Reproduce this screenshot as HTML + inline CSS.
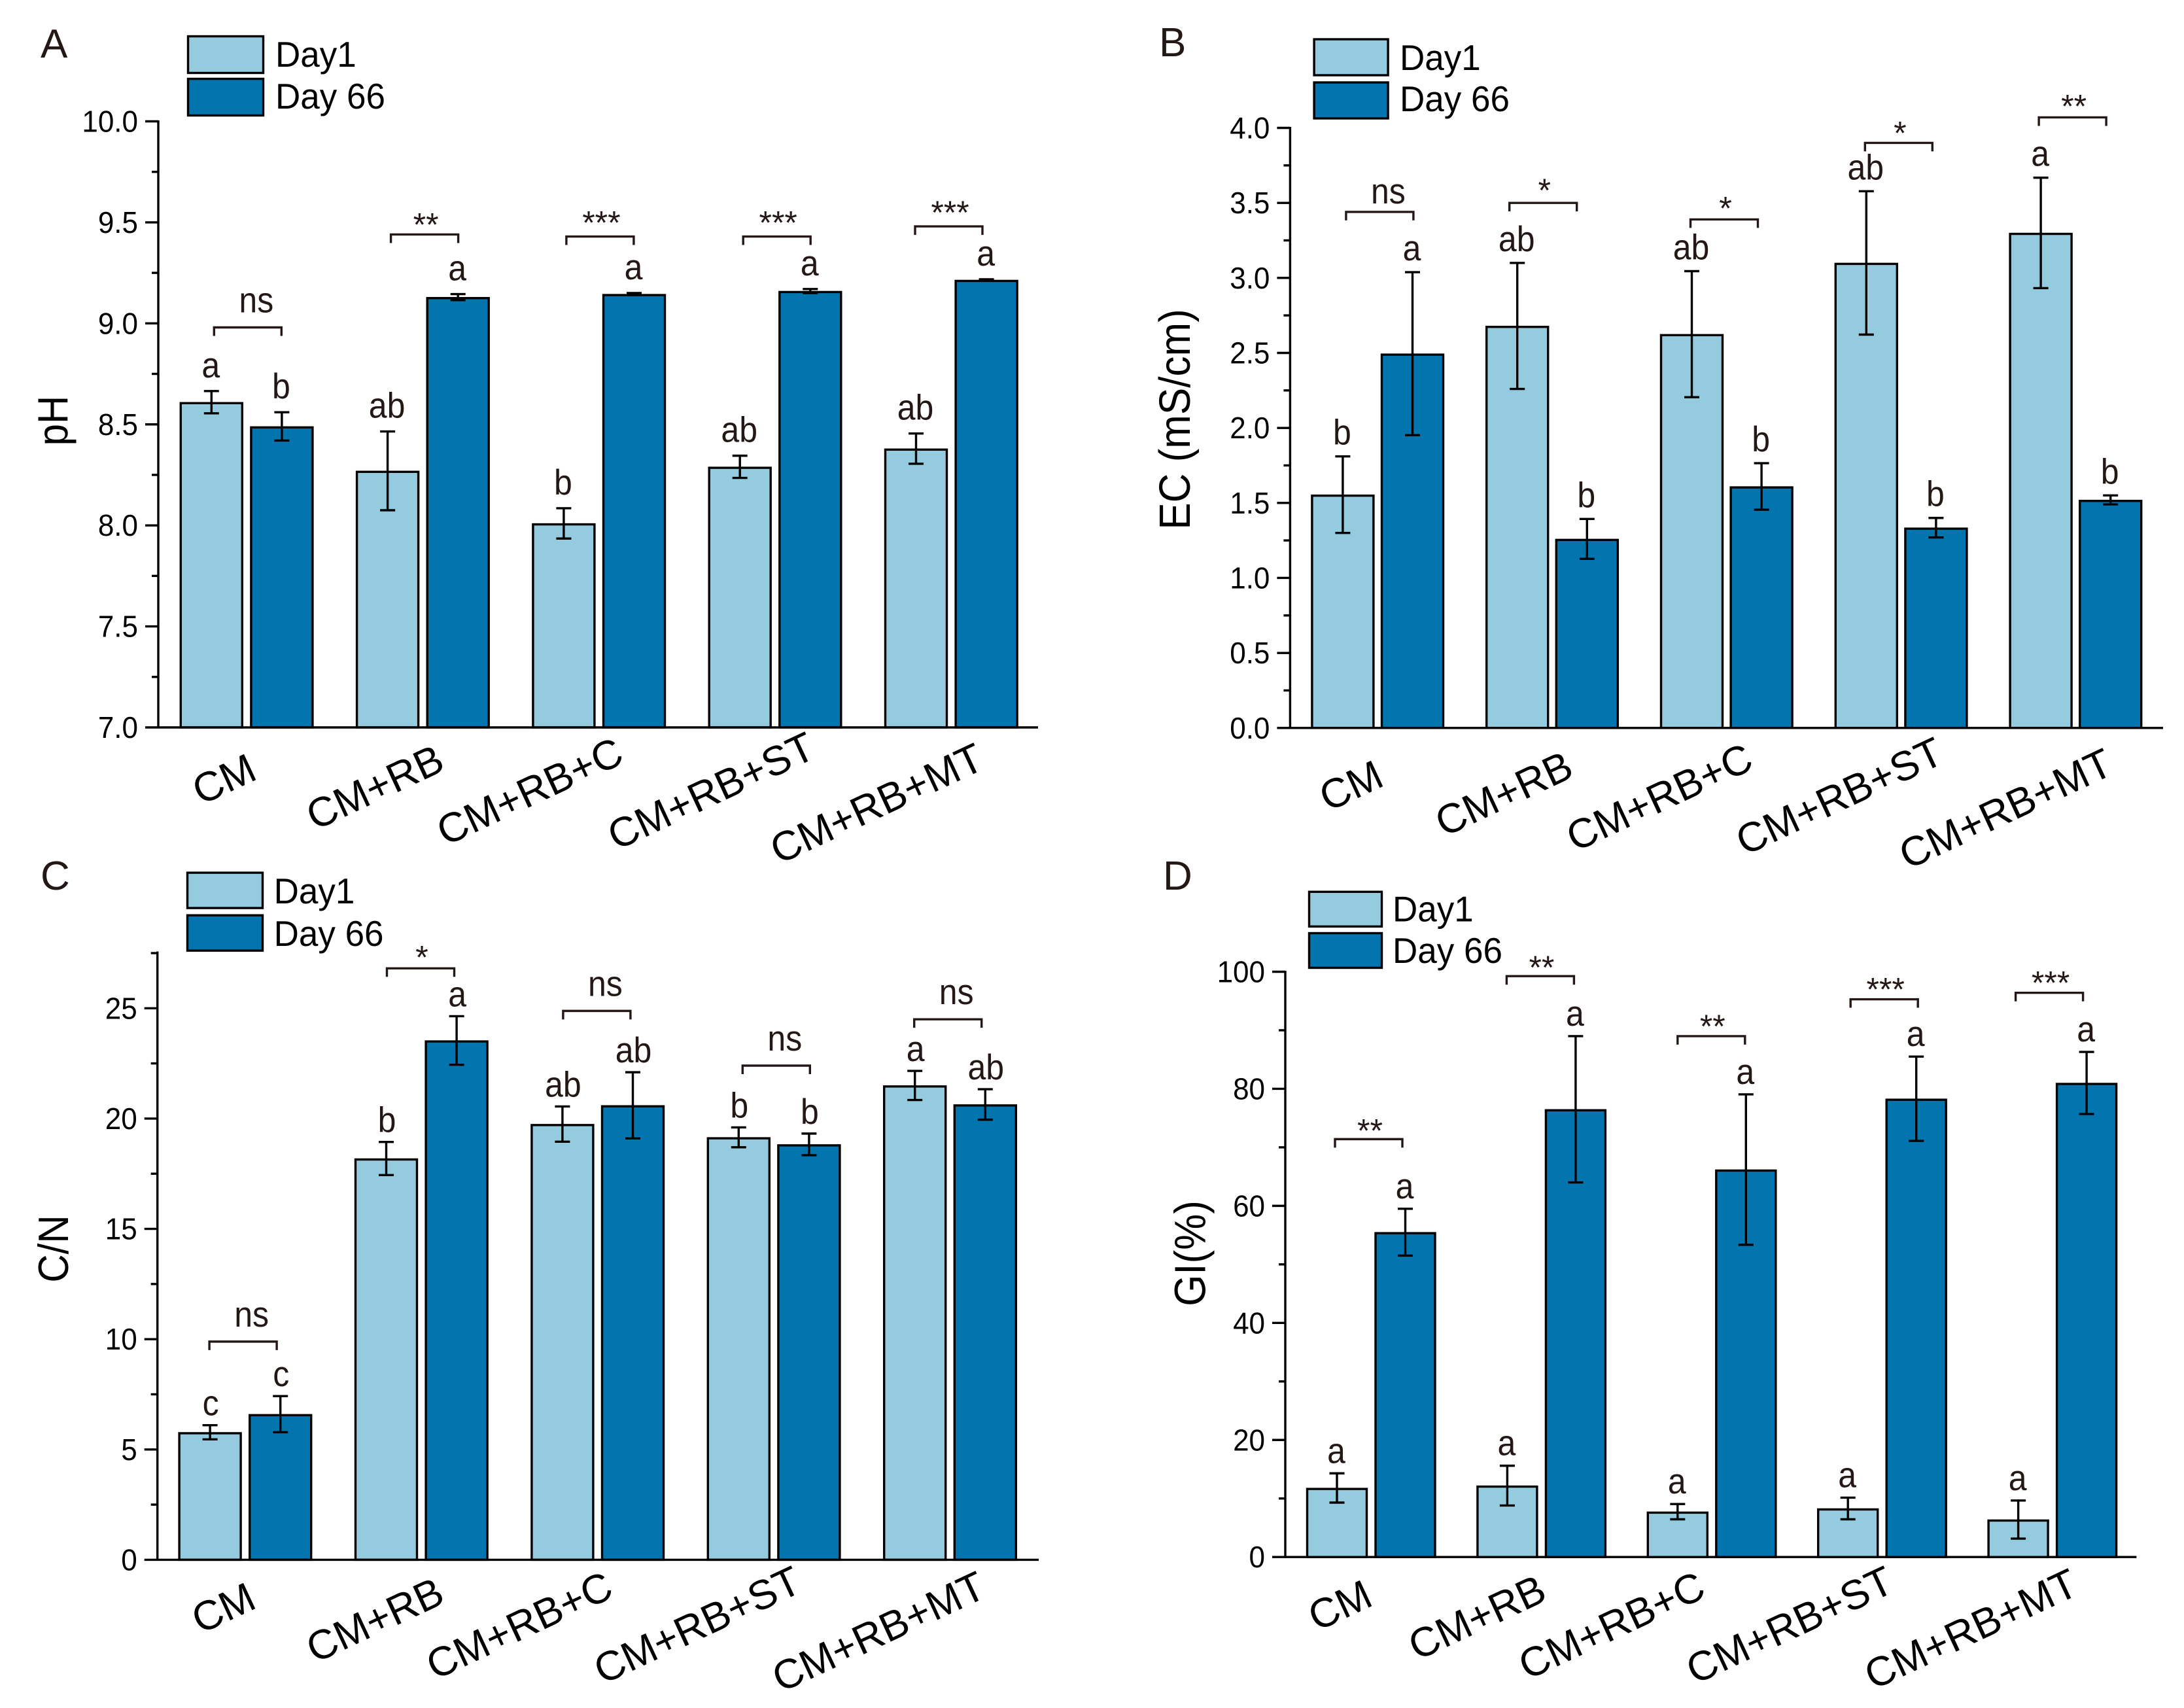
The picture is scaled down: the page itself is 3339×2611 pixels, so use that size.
<!DOCTYPE html>
<html lang="en">
<head>
<meta charset="utf-8">
<title>Compost properties at Day 1 and Day 66</title>
<style>
html,body{margin:0;padding:0;background:#fff;}
svg{display:block;font-family:"Liberation Sans",Arial,sans-serif;}
</style>
</head>
<body>
<svg id="figure" xmlns="http://www.w3.org/2000/svg" width="3339" height="2611" viewBox="0 0 3339 2611">
<rect width="3339" height="2611" fill="#ffffff"/>
</svg>
<script>
// ---- shared categories ----
const categories = ["CM", "CM+RB", "CM+RB+C", "CM+RB+ST", "CM+RB+MT"];
const seriesNames = ["Day1", "Day 66"];

// ---- Panel A: pH ----
const phDay1 = [8.61, 8.27, 8.01, 8.29, 8.38];
const phDay1Err = [0.055, 0.195, 0.075, 0.055, 0.075];
const phDay66 = [8.49, 9.13, 9.145, 9.16, 9.215];
const phDay66Err = [0.07, 0.015, 0.005, 0.01, 0.003];
const phLettersDay1 = ["a", "ab", "b", "ab", "ab"];
const phLettersDay66 = ["b", "a", "a", "a", "a"];
const phMajorTicks = [7.0, 7.5, 8.0, 8.5, 9.0, 9.5, 10.0];
const phTickLabels = ["7.0", "7.5", "8.0", "8.5", "9.0", "9.5", "10.0"];

// ---- Panel B: EC ----
const ecDay1 = [1.555, 2.68, 2.625, 3.10, 3.30];
const ecDay1Err = [0.255, 0.42, 0.42, 0.478, 0.368];
const ecDay66 = [2.495, 1.26, 1.61, 1.335, 1.52];
const ecDay66Err = [0.543, 0.133, 0.155, 0.065, 0.03];
const ecLettersDay1 = ["b", "ab", "ab", "ab", "a"];
const ecLettersDay66 = ["a", "b", "b", "b", "b"];
const ecMajorTicks = [0, 0.5, 1, 1.5, 2, 2.5, 3, 3.5, 4];
const ecTickLabels = ["0.0", "0.5", "1.0", "1.5", "2.0", "2.5", "3.0", "3.5", "4.0"];

// ---- Panel C: C/N ----
const cnDay1 = [5.78, 18.19, 19.75, 19.15, 21.5];
const cnDay1Err = [0.32, 0.75, 0.8, 0.45, 0.66];
const cnDay66 = [6.6, 23.54, 20.6, 18.83, 20.64];
const cnDay66Err = [0.82, 1.1, 1.5, 0.49, 0.69];
const cnLettersDay1 = ["c", "b", "ab", "b", "a"];
const cnLettersDay66 = ["c", "a", "ab", "b", "ab"];
const cnMajorTicks = [0, 5, 10, 15, 20, 25];
const cnTickLabels = ["0", "5", "10", "15", "20", "25"];

// ---- Panel D: GI ----
const giDay1 = [11.8, 12.2, 7.75, 8.3, 6.4];
const giDay1Err = [2.5, 3.4, 1.3, 1.85, 3.25];
const giDay66 = [55.5, 76.5, 66.2, 78.3, 81];
const giDay66Err = [4, 12.5, 12.85, 7.2, 5.3];
const giLettersDay1 = ["a", "a", "a", "a", "a"];
const giLettersDay66 = ["a", "a", "a", "a", "a"];
const giMajorTicks = [0, 20, 40, 60, 80, 100];
const giTickLabels = ["0", "20", "40", "60", "80", "100"];

const LIGHT = "#94cbdf";
const DARK = "#0274ae";
const INK = "#231815";
const STROKE = 3.4;
const svg = document.getElementById("figure");
const NS = "http://www.w3.org/2000/svg";

function mk(tag, parent, props) {
  const el = document.createElementNS(NS, tag);
  for (const k in props) el.setAttribute(k, props[k]);
  parent.appendChild(el);
  return el;
}
function group(name) {
  const g = mk("g", svg, {});
  
  
  return g;
}
function line(parent, name, x1, y1, x2, y2, color, w) {
  const el = mk("line", parent, {x1: x1, y1: y1, x2: x2, y2: y2, stroke: color, "stroke-width": w, "stroke-linecap": "butt"});
  
  
  return el;
}
function label(parent, name, x, y, str, size, anchor, color, rotation, stretchY) {
  const el = mk("text", parent, {x: 0, y: 0, "font-size": size, "text-anchor": anchor, fill: color});
  const spin = rotation ? "rotate(" + rotation + ")" : "";
  el.setAttribute("transform", "translate(" + x + " " + y + ")" + spin + "scale(1 " + (stretchY || 1) + ")");
  el.textContent = str;
  
  
  return el;
}

function makePanel(cfg) {
  const g = group("panel-" + cfg.id);
  const yOf = v => cfg.bottom - (v - cfg.min) / (cfg.max - cfg.min) * (cfg.bottom - cfg.top);
  const barX = (i, s) => cfg.firstBar + i * cfg.pitch + s * (cfg.barW + cfg.gap);

  const bars = mk("g", g, {});
  
  
  const sets = [
    {vals: cfg.day1, errs: cfg.day1Err, letters: cfg.letters1, fill: LIGHT, tag: "day1"},
    {vals: cfg.day66, errs: cfg.day66Err, letters: cfg.letters66, fill: DARK, tag: "day66"}
  ];
  sets.forEach((set, s) => {
    set.vals.forEach((v, i) => {
      const x = barX(i, s);
      const yTop = yOf(v);
      const bar = mk("rect", bars, {x: x + 1.5, y: yTop + 1.5, width: cfg.barW - 3, height: Math.max(0, cfg.bottom - yTop - 1.5), fill: set.fill, stroke: "#000", "stroke-width": STROKE});
      
      
    });
  });
  sets.forEach((set, s) => {
    set.vals.forEach((v, i) => {
      const cx = barX(i, s) + cfg.barW / 2;
      const hi = yOf(v + set.errs[i]);
      const lo = yOf(v - set.errs[i]);
      line(bars, 'error-stem-' + set.tag, cx, hi, cx, lo, "#000", STROKE);
      line(bars, 'error-cap-top-' + set.tag, cx - 11.5, hi, cx + 11.5, hi, "#000", STROKE);
      line(bars, 'error-cap-bottom-' + set.tag, cx - 11.5, lo, cx + 11.5, lo, "#000", STROKE);
      label(g, 'significance-letter-' + set.tag, cx + cfg.letterDx, hi - cfg.letterGap, set.letters[i], 50, "middle", INK, 0, 1.1);
    });
  });

  // axes
  line(g, "y-axis-line", cfg.axisX, cfg.top - 1.5, cfg.axisX, cfg.bottom + 1.5, "#000", STROKE);
  line(g, "x-axis-line", cfg.axisX - 20, cfg.bottom, cfg.axisEnd, cfg.bottom, "#000", STROKE);
  cfg.ticks.forEach((t, i) => {
    const y = yOf(t);
    if (i > 0) line(g, "y-major-tick", cfg.axisX - 20, y, cfg.axisX, y, "#000", STROKE);
    label(g, "y-tick-label", cfg.axisX - 31, y + 16, cfg.tickLabels[i], 44, "end", "#000", 0, 1.06);
    const mid = t + (cfg.ticks[1] - cfg.ticks[0]) / 2;
    if (mid <= cfg.max + 1e-9) line(g, "y-minor-tick", cfg.axisX - 10, yOf(mid), cfg.axisX, yOf(mid), "#000", STROKE);
  });

  function bracket(i, level, text, shift, dy) {
    const left = barX(i, 0) + cfg.barW / 2 + shift;
    const right = left + 103;
    const y = yOf(level);
    const p = mk("path", g, {d: "M" + left + " " + (y + 13) + "V" + y + "H" + right + "V" + (y + 13), fill: "none", stroke: INK, "stroke-width": STROKE});
    
    
    if (text === "ns") {
      label(g, "significance-label", (left + right) / 2 + 13, y - 23 + (dy || 0), text, 50, "middle", INK, 0, 1.1);
    } else {
      label(g, "significance-label", (left + right) / 2 + 2, y + 4 + (dy || 0), text, 50, "middle", INK);
    }
  }
  function catLabel(i, x, y) {
    label(g, "x-category-label", x + 4, y, categories[i], 63, "end", "#000", -25);
  }
  function legend(x, y1, y2, h, w, textX, base1, base2) {
    const lg = mk("g", g, {});
    
    
    const a = mk("rect", lg, {x: x + 1.5, y: y1 + 1.5, width: w - 3, height: h - 3, fill: LIGHT, stroke: "#000", "stroke-width": STROKE});
    
    
    const b = mk("rect", lg, {x: x + 1.5, y: y2 + 1.5, width: w - 3, height: h - 3, fill: DARK, stroke: "#000", "stroke-width": STROKE});
    
    
    label(lg, "legend-label-day1", textX - 2, base1, seriesNames[0], 53, "start", "#000", 0, 1.03);
    label(lg, "legend-label-day66", textX - 2, base2, seriesNames[1], 53, "start", "#000", 0, 1.03);
  }
  function title(text, x, y, size) {
    label(g, "y-axis-title", x, y, text, size, "middle", "#000", -90, 1.08);
  }
  function panelLetter(text, x, y) {
    label(g, "panel-letter", x, y, text, 62, "start", INK);
  }
  return {bracket, catLabel, legend, title, panelLetter};
}

// ---- Panel A ----
const A = makePanel({id: "a", top: 185.5, bottom: 1112, min: 7, max: 10, axisX: 242, axisEnd: 1587,
  firstBar: 274.8, pitch: 269.3, barW: 97, gap: 10.6, letterGap: 21, letterDx: -1,
  day1: phDay1, day1Err: phDay1Err, day66: phDay66, day66Err: phDay66Err,
  letters1: phLettersDay1, letters66: phLettersDay66, ticks: phMajorTicks, tickLabels: phTickLabels});
A.bracket(0, 8.98, "ns", 4);
A.bracket(1, 9.44, "**", 5, -2);
A.bracket(2, 9.43, "***", 4, -8);
A.bracket(3, 9.43, "***", 5, -8);
A.bracket(4, 9.48, "***", -1.5, -8);
A.catLabel(0, 392, 1190);
A.catLabel(1, 679, 1176);
A.catLabel(2, 953, 1165);
A.catLabel(3, 1246, 1157);
A.catLabel(4, 1504, 1174);
A.legend(286, 54, 119, 59, 118, 423, 102, 166);
A.title("pH", 103, 643, 60);
A.panelLetter("A", 62, 88);

// ---- Panel B ----
const B = makePanel({id: "b", top: 195.5, bottom: 1112.8, min: 0, max: 4, axisX: 1972.4, axisEnd: 3307,
  firstBar: 2004.4, pitch: 266.8, barW: 97, gap: 9.6, letterGap: 18, letterDx: -1,
  day1: ecDay1, day1Err: ecDay1Err, day66: ecDay66, day66Err: ecDay66Err,
  letters1: ecLettersDay1, letters66: ecLettersDay66, ticks: ecMajorTicks, tickLabels: ecTickLabels});
B.bracket(0, 3.44, "ns", 5, 10);
B.bracket(1, 3.50, "*", -12, -6);
B.bracket(2, 3.39, "*", -2, -4);
B.bracket(3, 3.90, "*", -2, -2);
B.bracket(4, 4.07, "**", -3, -4);
B.catLabel(0, 2115, 1200);
B.catLabel(1, 2405, 1186);
B.catLabel(2, 2680, 1174);
B.catLabel(3, 2971, 1165);
B.catLabel(4, 3230, 1182);
B.legend(2007.6, 58.5, 124.5, 58, 116, 2142, 107, 170);
B.title("EC (mS/cm)", 1819, 641, 62);
B.panelLetter("B", 1772, 86);

// ---- Panel C ----
const C = makePanel({id: "c", top: 1456, bottom: 2384.4, min: 0, max: 27.53, axisX: 240.7, axisEnd: 1588,
  firstBar: 272.6, pitch: 269.4, barW: 97, gap: 10.6, letterGap: 15, letterDx: 1,
  day1: cnDay1, day1Err: cnDay1Err, day66: cnDay66, day66Err: cnDay66Err,
  letters1: cnLettersDay1, letters66: cnLettersDay66, ticks: cnMajorTicks, tickLabels: cnTickLabels});
C.bracket(0, 9.89, "ns", -1);
C.bracket(1, 26.81, "*", 1, -4);
C.bracket(2, 24.88, "ns", 1);
C.bracket(3, 22.4, "ns", 6);
C.bracket(4, 24.5, "ns", -1);
C.catLabel(0, 391, 2457);
C.catLabel(1, 679, 2449);
C.catLabel(2, 937, 2440);
C.catLabel(3, 1225, 2432);
C.catLabel(4, 1507, 2440);
C.legend(285, 1332.6, 1397.7, 57, 118, 420.6, 1381, 1446);
C.title("C/N", 104, 1909, 60);
C.panelLetter("C", 62, 1360);

// ---- Panel D ----
const D = makePanel({id: "d", top: 1485.5, bottom: 2380.2, min: 0, max: 100, axisX: 1965, axisEnd: 3266.4,
  firstBar: 1997, pitch: 260.4, barW: 94, gap: 10.5, letterGap: 16, letterDx: -1,
  day1: giDay1, day1Err: giDay1Err, day66: giDay66, day66Err: giDay66Err,
  letters1: giLettersDay1, letters66: giLettersDay66, ticks: giMajorTicks, tickLabels: giTickLabels});
D.bracket(0, 71.4, "**", -3);
D.bracket(1, 99.25, "**", -1);
D.bracket(2, 89.0, "**", 0, -2);
D.bracket(3, 95.3, "***", 4, -2);
D.bracket(4, 96.4, "***", -4, -2);
D.catLabel(0, 2098, 2453);
D.catLabel(1, 2364, 2445);
D.catLabel(2, 2607, 2440);
D.catLabel(3, 2895, 2432);
D.catLabel(4, 3177, 2436);
D.legend(2000, 1361.8, 1425, 56, 114, 2131, 1408.6, 1472);
D.title("GI(%)", 1842.5, 1916, 62);
D.panelLetter("D", 1778, 1360);
</script>
</body>
</html>
